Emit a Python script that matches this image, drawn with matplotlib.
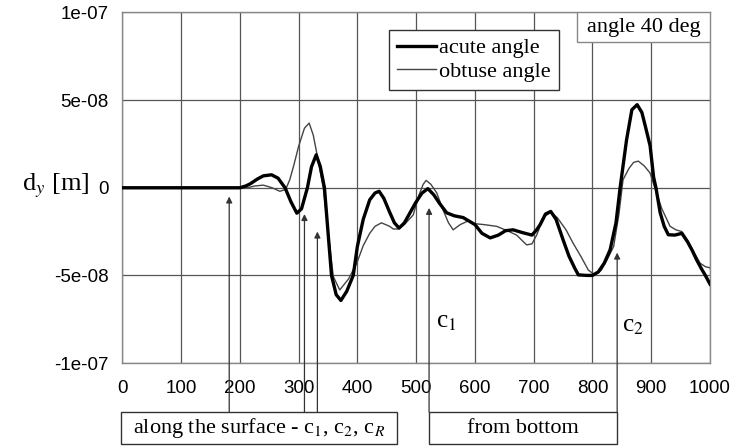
import matplotlib
matplotlib.use('Agg')
import matplotlib.pyplot as plt
from matplotlib.patches import Rectangle
import numpy as np

plt.rcParams['mathtext.fontset'] = 'stix'

# curve data, x in position units, y in units of 1e-8 m
acute_x = [0, 100, 200, 210, 218, 230, 240, 254, 265, 277, 287, 297, 305, 315, 322, 330, 337, 344,
           350, 356, 364, 372, 382, 393, 400, 410, 421, 430, 437, 445, 455, 463, 471, 480, 490, 499,
           510, 520, 530, 540, 552, 565, 580, 590, 600, 612, 626, 640, 652, 665, 680, 697, 705, 711,
           720, 729, 738, 750, 760, 770, 776, 790, 800, 810, 820, 830, 840, 847, 858, 867, 876, 884,
           890, 898, 904, 908, 915, 922, 929, 940, 952, 962, 970, 977, 985, 992, 1000]
acute_y = [0, 0, 0, 0.1, 0.23, 0.5, 0.68, 0.74, 0.55, 0.0, -0.8, -1.45, -1.2, 0.0, 1.2, 1.88, 1.2, 0.0,
           -2.5, -5.0, -6.1, -6.43, -5.9, -5.0, -3.35, -1.8, -0.69, -0.3, -0.2, -0.6, -1.4, -2.0, -2.3,
           -2.0, -1.4, -0.86, -0.3, -0.05, -0.4, -0.9, -1.43, -1.6, -1.7, -1.9, -2.1, -2.6, -2.86, -2.7,
           -2.45, -2.4, -2.55, -2.7, -2.4, -2.1, -1.5, -1.35, -1.8, -2.97, -3.9, -4.6, -4.97, -5.0, -5.0,
           -4.8, -4.3, -3.54, -2.0, 0.0, 2.74, 4.45, 4.74, 4.3, 3.5, 2.4, 0.6, 0.0, -1.4, -2.2, -2.68,
           -2.7, -2.6, -3.1, -3.6, -4.1, -4.6, -5.0, -5.5]

obtuse_x = [0, 200, 213, 225, 240, 255, 268, 278, 285, 292, 300, 310, 318, 325, 332, 342, 350, 359,
            370, 385, 399, 410, 421, 430, 441, 455, 461, 470, 480, 495, 505, 512, 517, 525, 535, 545,
            555, 563, 575, 588, 600, 615, 637, 655, 671, 680, 688, 697, 705, 712, 720, 729, 740, 755,
            767, 780, 793, 804, 815, 825, 836, 845, 852, 862, 870, 878, 888, 898, 906, 918, 932, 942,
            952, 962, 973, 983, 992, 1000]
obtuse_y = [0, 0, 0, 0.1, 0.15, 0.0, -0.2, -0.1, 0.46, 1.3, 2.36, 3.4, 3.69, 3.0, 1.79, 0.0, -2.4, -5.06,
            -5.83, -5.2, -4.3, -3.3, -2.6, -2.2, -2.0, -2.2, -2.35, -2.35, -2.1, -1.55, -0.4, 0.2, 0.42,
            0.2, -0.29, -1.2, -2.0, -2.4, -2.1, -1.9, -2.05, -2.1, -2.2, -2.45, -2.7, -3.0, -3.26, -3.2,
            -2.7, -2.1, -1.6, -1.4, -1.7, -2.4, -3.16, -3.9, -4.7, -4.97, -4.7, -4.1, -3.35, -1.5, 0.46,
            1.1, 1.45, 1.52, 1.25, 0.84, 0.0, -1.2, -2.2, -2.4, -2.5, -3.0, -3.7, -4.3, -4.5, -4.57]

xticks = [0, 100, 200, 300, 400, 500, 600, 700, 800, 900, 1000]
yticks = [1e-07, 5e-08, 0, -5e-08, -1e-07]
ytick_labels = ['1e-07', '5e-08', '0', '-5e-08', '-1e-07']

# arrows: x position and tip height (1e-8 m)
arrow_x = [182, 310, 332, 522, 842]
arrow_tip = [-0.5, -1.5, -2.5, -1.15, -3.7]

serif = 'Liberation Serif'
sans = 'Liberation Sans'

fig = plt.figure(figsize=(7.32, 4.46), dpi=100)
ax = fig.add_axes([0.167, 0.186, 0.803, 0.786])

ax.plot(np.array(obtuse_x), np.array(obtuse_y) * 1e-8, color='#444444', lw=1.0, label='obtuse angle', zorder=3)
ax.plot(np.array(acute_x), np.array(acute_y) * 1e-8, color='black', lw=2.4, label='acute angle', zorder=4)

ax.set_xlim(0, 1000)
ax.set_ylim(-1e-07, 1e-07)
ax.set_xticks(xticks)
ax.set_xticklabels([str(v) for v in xticks], family=sans, fontsize=13.5)
ax.set_yticks(yticks)
ax.set_yticklabels(ytick_labels, family=sans, fontsize=13.5)
ax.tick_params(axis='x', length=0, pad=12)
ax.tick_params(axis='y', length=0, pad=10)
ax.grid(True, color='#555555', lw=0.9)
for sp in ax.spines.values():
    sp.set_color('#888888')
    sp.set_linewidth(1.0)

# y label placed just left of the 0 tick
ax.text(-0.056, 0.505, r'd$_{\mathit{y}}$ [m]', transform=ax.transAxes, family=serif,
        fontsize=19, ha='right', va='center')

# legend, black first
h, l = ax.get_legend_handles_labels()
leg = ax.legend(h[::-1], l[::-1], loc='upper left', bbox_to_anchor=(0.454, 0.95),
                prop={'family': serif, 'size': 16}, handlelength=1.75, handletextpad=0.15,
                fancybox=False, framealpha=1, edgecolor='#333333', borderpad=0.35,
                labelspacing=0.15, borderaxespad=0)
leg.get_frame().set_linewidth(1.0)
leg.set_zorder(6)

# angle box in upper right
ax.add_patch(Rectangle((0.774, 0.916), 0.226, 0.084, transform=ax.transAxes, facecolor='white',
                       edgecolor='#888888', lw=1.0, zorder=6))
ax.text(0.887, 0.957, 'angle 40 deg', transform=ax.transAxes, family=serif, fontsize=16,
        ha='center', va='center', zorder=7)

# arrows down to the boxes below the axis
for xa, ya in zip(arrow_x, arrow_tip):
    ax.annotate('', xy=(xa, ya * 1e-8), xycoords='data',
                xytext=(xa, -0.14), textcoords=('data', 'axes fraction'),
                arrowprops=dict(arrowstyle='-|>', color='#333333', lw=0.9, mutation_scale=9,
                                shrinkA=0, shrinkB=0),
                annotation_clip=False, zorder=5)

ax.add_patch(Rectangle((-0.002, -0.231), 0.469, 0.091, transform=ax.transAxes, facecolor='white',
                       edgecolor='#333333', lw=1.0, clip_on=False, zorder=6))
ax.text(0.232, -0.186, r'along the surface - c$_1$, c$_2$, c$_R$', transform=ax.transAxes,
        family=serif, fontsize=16, ha='center', va='center', zorder=7)

ax.add_patch(Rectangle((0.522, -0.231), 0.320, 0.091, transform=ax.transAxes, facecolor='none',
                       edgecolor='#333333', lw=1.0, clip_on=False, zorder=6))
ax.text(0.682, -0.186, 'from bottom', transform=ax.transAxes, family=serif, fontsize=16,
        ha='center', va='center', zorder=7)

ax.text(551, -7.65e-8, r'c$_1$', family=serif, fontsize=18, ha='center', va='center')
ax.text(869, -7.9e-8, r'c$_2$', family=serif, fontsize=18, ha='center', va='center')

fig.savefig('out.png', dpi=100)
